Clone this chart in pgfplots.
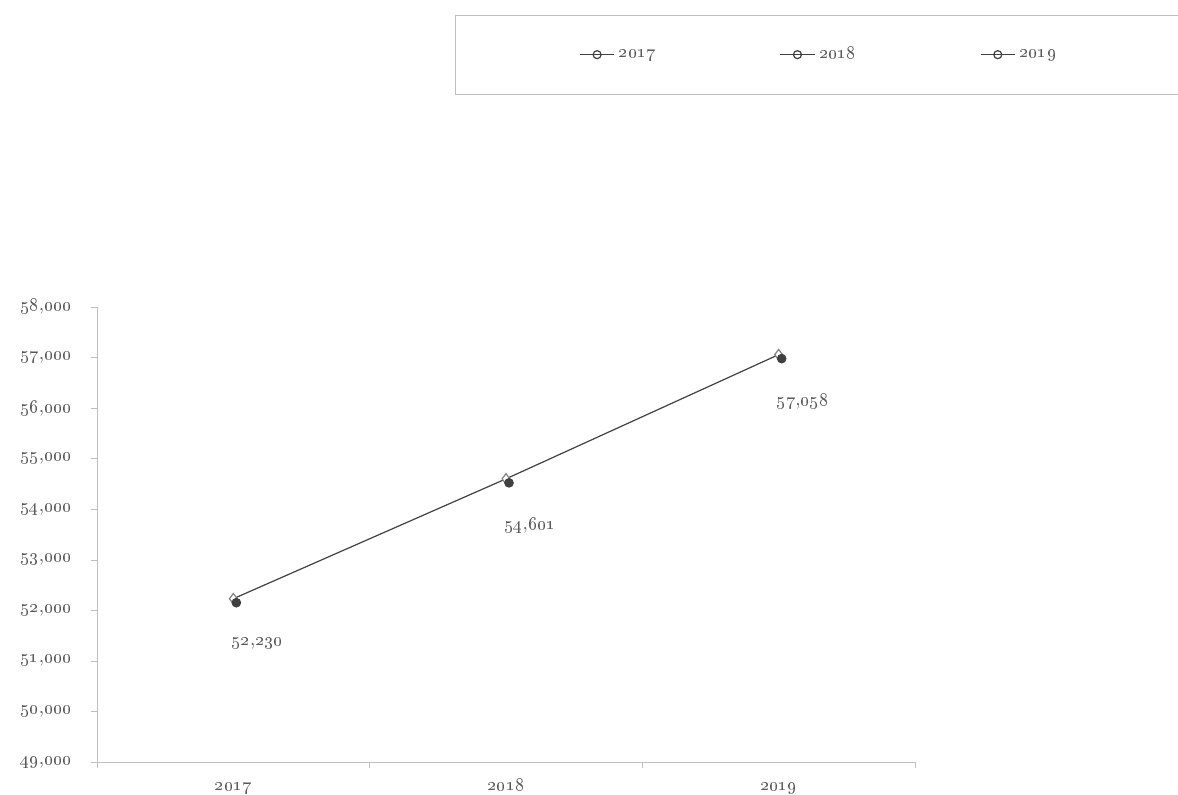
\documentclass[border=0pt]{standalone}
\usepackage{pgfplots}
\pgfplotsset{compat=1.18}
\newcommand\os[2]{\oldstylenums{#1},\oldstylenums{#2}}
\definecolor{axgray}{HTML}{BFBFBF}
\definecolor{txtgray}{HTML}{595959}
\definecolor{linegray}{HTML}{404040}
\begin{document}
\begin{tikzpicture}[font=\fontsize{9.5}{11}\selectfont]
\useasboundingbox (0,0) rectangle (589pt,397pt);
\begin{axis}[
  at={(48.5pt,16pt)}, anchor=south west,
  scale only axis, width=409pt, height=227.5pt,
  xmin=-0.5, xmax=2.5, ymin=49000, ymax=58000,
  scaled y ticks=false,
  axis lines=left, axis line style={axgray, -},
  xtick={0,1,2}, xticklabels={\oldstylenums{2017},\oldstylenums{2018},\oldstylenums{2019}},
  major x tick style={draw=none},
  minor xtick={-0.5,0.5,1.5,2.5},
  minor tick length=3pt,
  ytick={49000,50000,...,58000},
  yticklabels={\os{49}{000},\os{50}{000},\os{51}{000},\os{52}{000},\os{53}{000},\os{54}{000},\os{55}{000},\os{56}{000},\os{57}{000},\os{58}{000}},
  tick align=outside, major tick length=3pt,
  tick style={axgray},
  ticklabel style={txtgray},
  xticklabel style={anchor=base, text height=6pt, text depth=1.5pt, yshift=-11pt},
  yticklabel style={xshift=-6pt},
  legend columns=3,
  legend style={at={(0.4377,1.6418)}, anchor=north west, draw=axgray, fill=white,
    inner xsep=62pt, inner ysep=14pt, text=txtgray,
    /tikz/every even column/.append style={column sep=60pt}},
  legend image code/.code={\draw[#1, mark repeat=2, mark phase=2] plot coordinates {(0cm,0cm) (0.3cm,0cm) (0.6cm,0cm)};},
]
\addplot[linegray, line width=0.6pt, mark=diamond*, mark size=2.6pt,
  mark options={fill=white, draw=gray}, forget plot,
  point meta=explicit symbolic,
  nodes near coords, nodes near coords style={anchor=north, xshift=12pt, yshift=-16pt, text=txtgray}]
  coordinates {(0,52230) [\os{52}{230}] (1,54601) [\os{54}{601}] (2,57058) [\os{57}{058}]};
\addplot[only marks, mark=*, mark size=2.2pt, linegray, forget plot,
  mark options={xshift=1.5pt, yshift=-2pt}]
  coordinates {(0,52230) (1,54601) (2,57058)};
\addlegendimage{linegray, line width=0.6pt, mark=o, mark size=2pt, mark options={draw=linegray}}
\addlegendentry{\oldstylenums{2017}}
\addlegendimage{linegray, line width=0.6pt, mark=o, mark size=2pt, mark options={draw=linegray}}
\addlegendentry{\oldstylenums{2018}}
\addlegendimage{linegray, line width=0.6pt, mark=o, mark size=2pt, mark options={draw=linegray}}
\addlegendentry{\oldstylenums{2019}}
\end{axis}
\end{tikzpicture}
\end{document}
